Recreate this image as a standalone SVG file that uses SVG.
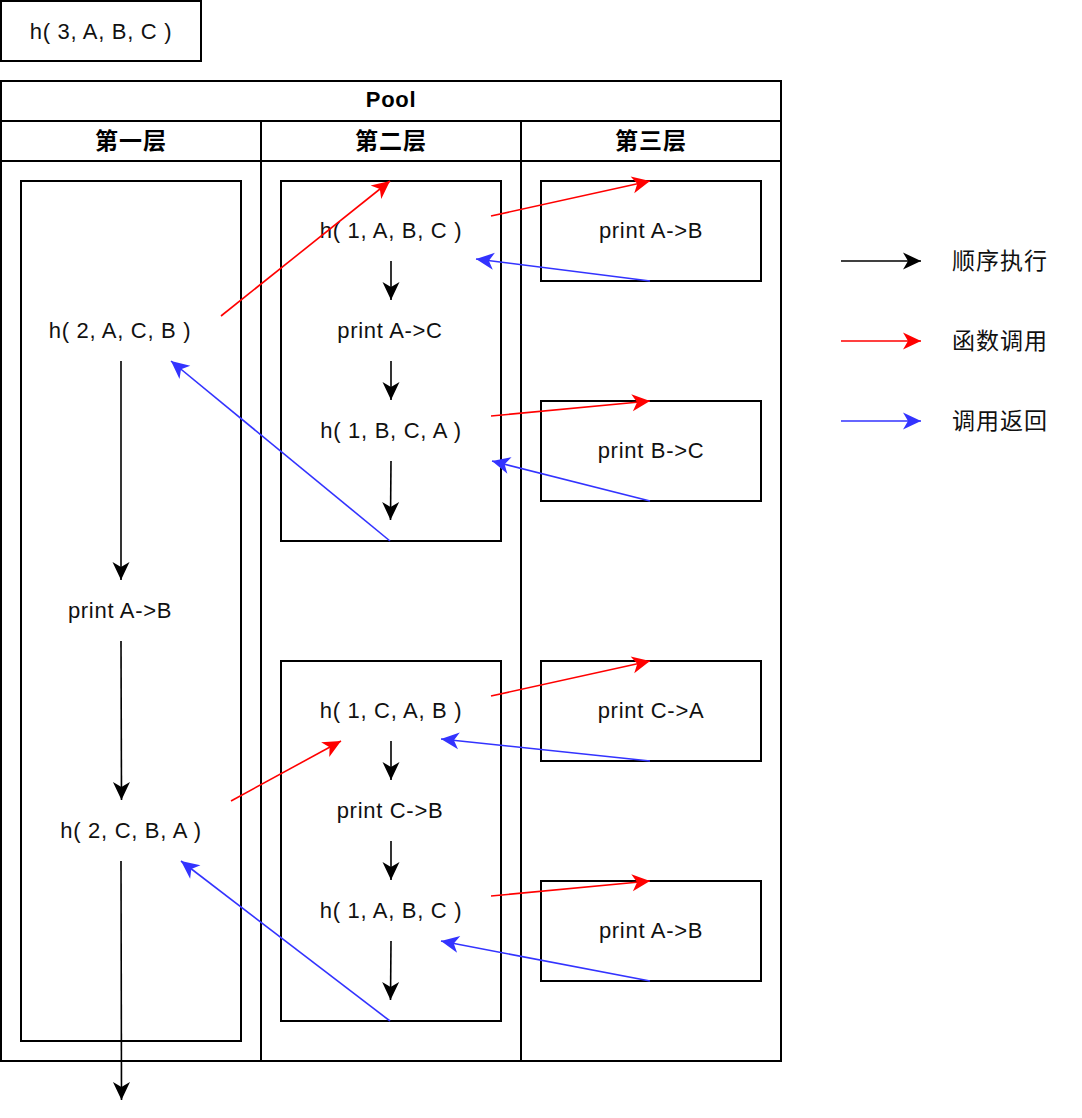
<svg xmlns="http://www.w3.org/2000/svg" width="1082" height="1118" viewBox="0 0 1082 1118">
<defs>
<style>
.box{fill:#fff;stroke:#000;stroke-width:2}
.ln{fill:none;stroke:#000;stroke-width:2}
.t{font-family:"Liberation Sans",Arial,sans-serif;font-size:22px;letter-spacing:0.7px;fill:#111;text-anchor:middle}
.b{font-weight:bold;fill:#000;font-size:22px}
.cj{font-family:"Noto Sans CJK SC",sans-serif;font-size:23px;letter-spacing:1px;text-anchor:middle;fill:#111}
.cjb{font-weight:bold;fill:#000}
.k{fill:none;stroke:#000;stroke-width:1.6;marker-end:url(#ak)}
.r{fill:none;stroke:#FF0000;stroke-width:1.6;marker-end:url(#ar)}
.u{fill:none;stroke:#3333FF;stroke-width:1.6;marker-end:url(#au)}
</style>
<marker id="ak" markerUnits="userSpaceOnUse" viewBox="-19 -10 20 20" refX="0" refY="0" markerWidth="20" markerHeight="20" orient="auto"><path d="M0,0 L-18,-8.5 L-13,0 L-18,8.5 Z" fill="#000"/></marker>
<marker id="ar" markerUnits="userSpaceOnUse" viewBox="-19 -10 20 20" refX="0" refY="0" markerWidth="20" markerHeight="20" orient="auto"><path d="M0,0 L-18,-8.5 L-13,0 L-18,8.5 Z" fill="#FF0000"/></marker>
<marker id="au" markerUnits="userSpaceOnUse" viewBox="-19 -10 20 20" refX="0" refY="0" markerWidth="20" markerHeight="20" orient="auto"><path d="M0,0 L-18,-8.5 L-13,0 L-18,8.5 Z" fill="#3333FF"/></marker>
</defs>
<rect width="1082" height="1118" fill="#fff"/>

<g id="start">
<rect class="box" x="1" y="1" width="200" height="60"/>
<text class="t" x="101" y="39">h( 3, A, B, C )</text>
</g>

<g id="pool">
<rect class="box" x="1" y="81" width="780" height="980"/>
<line class="ln" x1="1" y1="121" x2="781" y2="121"/>
<line class="ln" x1="1" y1="161" x2="781" y2="161"/>
<line class="ln" x1="261" y1="121" x2="261" y2="1061"/>
<line class="ln" x1="521" y1="121" x2="521" y2="1061"/>
<text class="t b" x="391" y="107">Pool</text>
<text class="cj cjb" x="131" y="149">第一层</text>
<text class="cj cjb" x="391" y="149">第二层</text>
<text class="cj cjb" x="651" y="149">第三层</text>
</g>

<g id="layer1">
<rect class="box" x="21" y="181" width="220" height="860"/>
<text class="t" x="120" y="338">h( 2, A, C, B )</text>
<text class="t" x="120" y="618">print A-&gt;B</text>
<text class="t" x="131" y="838">h( 2, C, B, A )</text>
</g>

<g id="layer2-top">
<rect class="box" x="281" y="181" width="220" height="360"/>
<text class="t" x="391" y="238">h( 1, A, B, C )</text>
<text class="t" x="390" y="338">print A-&gt;C</text>
<text class="t" x="391" y="438">h( 1, B, C, A )</text>
</g>

<g id="layer2-bottom">
<rect class="box" x="281" y="661" width="220" height="360"/>
<text class="t" x="391" y="718">h( 1, C, A, B )</text>
<text class="t" x="390" y="818">print C-&gt;B</text>
<text class="t" x="391" y="918">h( 1, A, B, C )</text>
</g>

<g id="l3-1"><rect class="box" x="541" y="181" width="220" height="100"/><text class="t" x="651" y="238">print A-&gt;B</text></g>
<g id="l3-2"><rect class="box" x="541" y="401" width="220" height="100"/><text class="t" x="651" y="458">print B-&gt;C</text></g>
<g id="l3-3"><rect class="box" x="541" y="661" width="220" height="100"/><text class="t" x="651" y="718">print C-&gt;A</text></g>
<g id="l3-4"><rect class="box" x="541" y="881" width="220" height="100"/><text class="t" x="651" y="938">print A-&gt;B</text></g>

<g id="legend">
<line class="k" x1="841" y1="261" x2="921" y2="261"/>
<line class="r" x1="841" y1="341" x2="921" y2="341"/>
<line class="u" x1="841" y1="421" x2="921" y2="421"/>
<text class="cj" x="1000" y="269">顺序执行</text>
<text class="cj" x="1000" y="349">函数调用</text>
<text class="cj" x="1000" y="429">调用返回</text>
</g>

<g id="connectors">
<line class="k" x1="121" y1="361" x2="121" y2="580"/>
<line class="k" x1="121" y1="641" x2="121.5" y2="800"/>
<line class="k" x1="121" y1="861" x2="121.5" y2="1100"/>
<line class="k" x1="391" y1="261" x2="391" y2="300"/>
<line class="k" x1="391" y1="361" x2="391" y2="400"/>
<line class="k" x1="391" y1="461" x2="390.5" y2="520"/>
<line class="k" x1="391" y1="741" x2="391" y2="780"/>
<line class="k" x1="391" y1="841" x2="391" y2="880"/>
<line class="k" x1="391" y1="941" x2="390.5" y2="1000"/>

<line class="r" x1="221" y1="316" x2="390" y2="181"/>
<line class="r" x1="491" y1="216" x2="650" y2="181"/>
<line class="r" x1="491" y1="416" x2="650" y2="401"/>
<line class="r" x1="231" y1="801" x2="341" y2="741"/>
<line class="r" x1="491" y1="696" x2="650" y2="661"/>
<line class="r" x1="491" y1="896" x2="650" y2="881"/>

<line class="u" x1="390" y1="541" x2="171" y2="361"/>
<line class="u" x1="650" y1="281" x2="476" y2="259"/>
<line class="u" x1="650" y1="501" x2="492" y2="461"/>
<line class="u" x1="390" y1="1021" x2="181" y2="861"/>
<line class="u" x1="650" y1="761" x2="441" y2="739"/>
<line class="u" x1="650" y1="981" x2="441" y2="941"/>
</g>
</svg>
